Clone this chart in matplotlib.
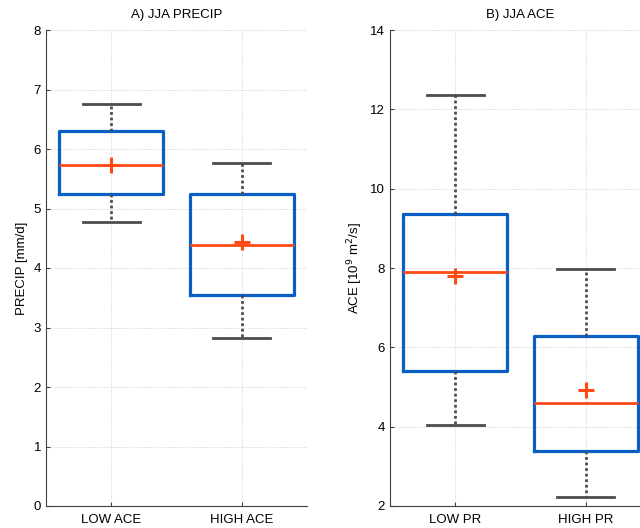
import matplotlib
matplotlib.use('Agg')
import matplotlib.pyplot as plt

plt.rcParams['font.family'] = ['Liberation Sans', 'DejaVu Sans']

############# data ###################################
precip_labels = ['LOW ACE', 'HIGH ACE']
precip_whislo = [4.77, 2.82]
precip_q1 = [5.24, 3.55]
precip_med = [5.73, 4.39]
precip_mean = [5.73, 4.44]
precip_q3 = [6.30, 5.24]
precip_whishi = [6.76, 5.76]

ace_labels = ['LOW PR', 'HIGH PR']
ace_whislo = [4.03, 2.23]
ace_q1 = [5.40, 3.38]
ace_med = [7.90, 4.59]
ace_mean = [7.79, 4.92]
ace_q3 = [9.36, 6.28]
ace_whishi = [12.35, 7.98]

box_col = '#0A5FC4'
med_col = '#FF4A14'
whisk_col = '#4D4D4D'


def make_stats(labels, lo, q1, med, mean, q3, hi):
    stats = []
    for i in range(len(labels)):
        stats.append({'label': labels[i], 'whislo': lo[i], 'q1': q1[i], 'med': med[i],
                      'mean': mean[i], 'q3': q3[i], 'whishi': hi[i], 'fliers': []})
    return stats


def draw_box(ax, stats, title, ylabel, ylim, yticks):
    ax.bxp(stats, positions=[1, 2], widths=0.8, capwidths=0.44, showmeans=True,
           showfliers=False,
           boxprops=dict(color=box_col, linewidth=2.3),
           medianprops=dict(color=med_col, linewidth=2),
           whiskerprops=dict(color=whisk_col, linewidth=2, linestyle=(0, (1, 1))),
           capprops=dict(color=whisk_col, linewidth=2),
           meanprops=dict(marker='+', markeredgecolor=med_col, markersize=12,
                          markeredgewidth=2.2))
    ax.set_xlim(0.5, 2.5)
    ax.set_ylim(*ylim)
    ax.set_yticks(yticks)
    ax.set_title(title, fontsize=9.5, pad=9)
    ax.set_ylabel(ylabel, fontsize=9.5)
    ax.grid(True, color='#d0d0d0', linestyle=(0, (1, 1.5)), linewidth=0.7)
    ax.set_axisbelow(True)
    for s in ['top', 'right']:
        ax.spines[s].set_visible(False)
    for s in ['left', 'bottom']:
        ax.spines[s].set_color('#404040')
    ax.tick_params(direction='in', labelsize=9.5, length=3, color='#404040')
    ax.tick_params(axis='x', pad=6)


fig = plt.figure(figsize=(6.4, 5.28), dpi=100)
ax1 = fig.add_axes([46/640, 22/528, 261/640, 476/528])
ax2 = fig.add_axes([390/640, 22/528, 261/640, 476/528])

draw_box(ax1, make_stats(precip_labels, precip_whislo, precip_q1, precip_med,
                         precip_mean, precip_q3, precip_whishi),
         'A) JJA PRECIP', 'PRECIP [mm/d]', (0, 8), range(0, 9))
draw_box(ax2, make_stats(ace_labels, ace_whislo, ace_q1, ace_med,
                         ace_mean, ace_q3, ace_whishi),
         'B) JJA ACE', 'ACE [10$^9$ m$^2$/s]', (2, 14), range(2, 15, 2))

fig.savefig('out.png', dpi=100)
